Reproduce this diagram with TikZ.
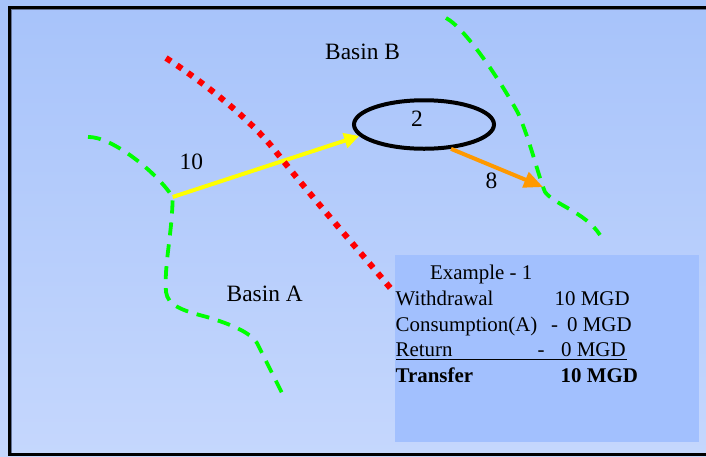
\documentclass[tikz,border=0pt]{standalone}
\usepackage{fontspec}
\setmainfont{Liberation Serif}
\usetikzlibrary{arrows.meta,shapes.geometric}
\definecolor{bgtop}{RGB}{167,195,250}
\definecolor{bgbot}{RGB}{197,215,253}
\definecolor{boxfill}{RGB}{162,192,254}
\definecolor{frgreen}{RGB}{0,255,0}
\definecolor{frred}{RGB}{255,0,0}
\definecolor{fryellow}{RGB}{255,255,0}
\definecolor{frorange}{RGB}{255,153,0}
\definecolor{frshadow}{RGB}{100,115,150}
\begin{document}
\begin{tikzpicture}[x=1pt,y=-1pt,
  boundary/.style={draw=frgreen,line width=3.8pt,dash pattern=on 13pt off 9pt},
  divide/.style={draw=frred,line width=6pt,dash pattern=on 6pt off 7.2pt},
  frame/.style={draw=black,line width=3pt},
  flowyellow/.style={draw=fryellow,line width=4pt,-{Triangle[length=15pt,width=15pt]}},
  floworange/.style={draw=frorange,line width=4pt,-{Triangle[length=19pt,width=16pt]}},
  lbl/.style={inner sep=0pt,anchor=base west,font=\fontsize{23.4}{28}\selectfont},
  boxtxt/.style={inner sep=0pt,anchor=base west,font=\fontsize{20.9}{25}\selectfont},
  boxbold/.style={boxtxt,font=\fontsize{20.9}{25}\selectfont\bfseries}]
\shade[top color=bgtop,bottom color=bgbot] (0,0) rectangle (706,456);
\useasboundingbox (0,0) rectangle (706,456);
% frame
\draw[draw=frshadow,line width=1pt] (11.5,452.8) -- (11.5,9) -- (706,9);
\draw[frame] (706,7) -- (9.5,7) -- (9.5,454.6) -- (706,454.6);
% basin boundaries
\draw[boundary] (88,137) .. controls (110,136) and (155,170) .. (172.7,197)
  coordinate (src)
  .. controls (172,235) and (164,265) .. (166,292)
  .. controls (168,305) and (180,310) .. (207,317)
  .. controls (230,324) and (250,332) .. (257,343) -- (282,393);
\draw[boundary] (446,18) .. controls (465,28) and (500,80) .. (518,113)
  .. controls (530,140) and (538,175) .. (545,192)
  .. controls (555,205) and (585,212) .. (600,235);
% reservoir
\node[draw,line width=4pt,ellipse,minimum width=140pt,minimum height=48.5pt,inner sep=0pt] (ell) at (424,124.5) {};
\coordinate (tgt) at (543,187);
% transfers
\draw[flowyellow] (src) -- (ell.190);
\draw[floworange] (ell.318) -- (tgt);
% basin divide
\draw[divide] (166,58) .. controls (200,80) and (250,118) .. (277,153)
  .. controls (310,195) and (350,240) .. (392,290);
% example box
\node[fill=boxfill,inner sep=0pt,minimum width=304pt,minimum height=187pt,anchor=north west] (box) at (395,255) {};
% labels
\node[lbl] (basinB) at (325,59) {Basin B};
\node[lbl] (basinA) at (226.5,301) {Basin A};
\node[lbl] (ten) at (179.5,169) {10};
\node[lbl] (two) at (411,126.7) {2};
\node[lbl] (eight) at (485.5,188.3) {8};
% box text
\node[boxtxt] (ex) at (430,279.3) {Example - 1};
\node[boxtxt] (wd) at (395.5,305) {Withdrawal};
\node[boxtxt] (wdv) at (554.5,305) {10 MGD};
\node[boxtxt] (cs) at (395.5,331.7) {Consumption(A)};
\node[boxtxt] (csm) at (551,331.7) {-};
\node[boxtxt] (csv) at (567,331.7) {0 MGD};
\node[boxtxt] (rt) at (395.5,356.7) {Return};
\node[boxtxt] (rtm) at (537.5,356.7) {-};
\node[boxtxt] (rtv) at (561,356.7) {0 MGD};
\draw[line width=1.2pt] (396,359.5) -- (627,359.5);
\node[boxbold] (tr) at (395.5,382.3) {Transfer};
\node[boxbold] (trv) at (560.5,382.3) {10 MGD};
\end{tikzpicture}
\end{document}
